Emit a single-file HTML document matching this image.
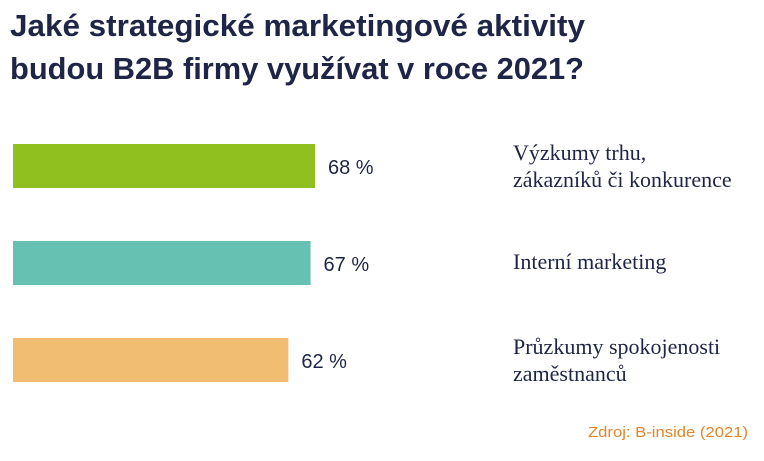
<!DOCTYPE html>
<html><head><meta charset="utf-8"><style>
html,body{margin:0;padding:0;background:#fff;}
svg{display:block;}
</style></head><body>
<svg id="chart" width="764" height="461" xmlns="http://www.w3.org/2000/svg">
<text x="10" y="36" font-family="Liberation Sans, sans-serif" font-weight="bold" font-size="31" fill="#1f2547" textLength="575" lengthAdjust="spacingAndGlyphs">Jaké strategické marketingové aktivity</text>
<text x="10" y="79" font-family="Liberation Sans, sans-serif" font-weight="bold" font-size="31" fill="#1f2547" textLength="574" lengthAdjust="spacingAndGlyphs">budou B2B firmy využívat v roce 2021?</text>
<g id="bars"></g>
<text x="748" y="437" text-anchor="end" font-family="Liberation Sans, sans-serif" font-size="15" fill="#e8832a" textLength="160" lengthAdjust="spacingAndGlyphs">Zdroj: B-inside (2021)</text>
</svg>
<script>
const categories = [["Výzkumy trhu,","zákazníků či konkurence"],["Interní marketing"],["Průzkumy spokojenosti","zaměstnanců"]];
const values = [68, 67, 62];
const valueLabels = ["68 %","67 %","62 %"];
const colors = ["#8fc01f","#66c1b3","#f0bd72"];
const NS="http://www.w3.org/2000/svg";
const g=document.getElementById('bars');
const x0=13, pxPerPct=302/68, barH=44, y0=144, step=97;
function xScale(v){return x0+v*pxPerPct;}
values.forEach((v,i)=>{
  const y=y0+i*step;
  const r=document.createElementNS(NS,'rect');
  
  
  r.setAttribute('x',x0);r.setAttribute('y',y);
  r.setAttribute('width',xScale(v)-x0);r.setAttribute('height',barH);
  r.setAttribute('fill',colors[i]);
  g.appendChild(r);
  const t=document.createElementNS(NS,'text');
  
  
  t.setAttribute('x',xScale(v)+13);t.setAttribute('y',y+30);
  t.setAttribute('font-family','Liberation Sans, sans-serif');
  t.setAttribute('font-size','20');t.setAttribute('fill','#1f2547');
  t.textContent=valueLabels[i];
  g.appendChild(t);
  const lines=categories[i];
  const base = lines.length===2 ? y+16 : y+28;
  lines.forEach((ln,j)=>{
    const c=document.createElementNS(NS,'text');
    
    
    c.setAttribute('x',513);c.setAttribute('y',base+j*27);
    c.setAttribute('font-family','Liberation Serif, serif');
    c.setAttribute('font-size','22');c.setAttribute('fill','#1f2547');
    c.textContent=ln;
    g.appendChild(c);
  });
});
</script>
</body></html>
